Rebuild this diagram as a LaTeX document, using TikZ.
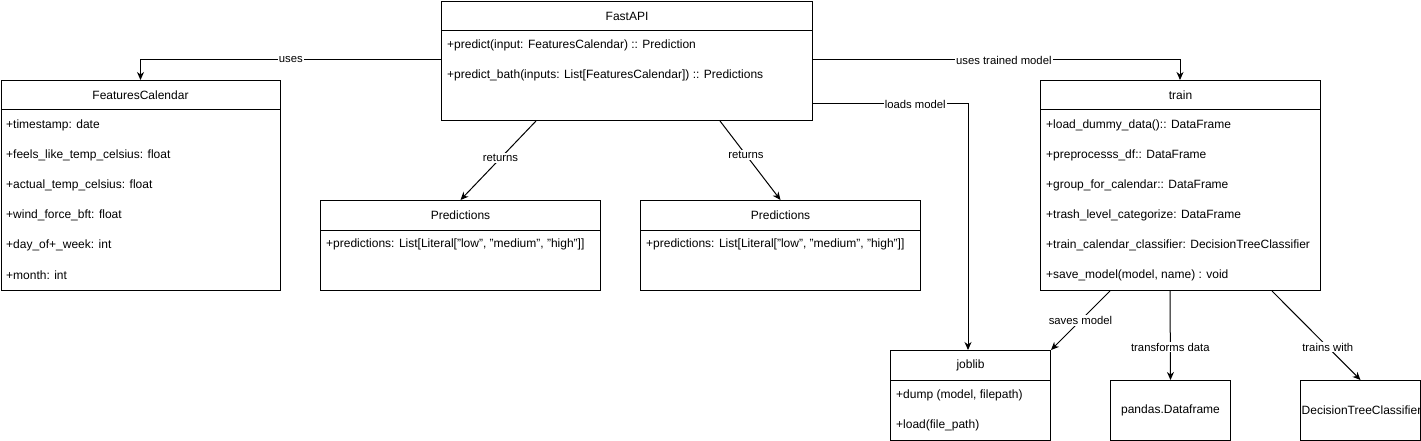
\documentclass[tikz,border=0pt]{standalone}
\usepackage{fontspec}
\setmainfont{Liberation Sans}
\usetikzlibrary{arrows.meta,calc}
\begin{document}
\begin{tikzpicture}[x=1pt,y=-1pt, font=\fontsize{12}{14}\selectfont,
 box/.style={draw, line width=1pt, anchor=north west, inner sep=0pt},
 hdr/.style={anchor=center, inner sep=0pt},
 row/.style={anchor=west, inner sep=0pt},
 divider/.style={line width=1pt},
 conn/.style={line width=1pt, -{Stealth[length=8pt,width=7pt,inset=2.5pt]}},
 lbl/.style={fill=white, inner sep=1pt, font=\fontsize{11.3}{13}\selectfont}]
\useasboundingbox (0,0) rectangle (1421,441);

% FastAPI
\node[box, minimum width=371pt, minimum height=119pt] (fast) at (441,1) {};
\node[hdr] (fastT) at ($(fast.north)+(0,15)$) {FastAPI};
\draw[divider] ($(fast.north west)+(0,30)$) -- ($(fast.north east)+(0,30)$);
\node[row] (fast1) at ($(fast.north west)+(6,44)$) {+predict(input: FeaturesCalendar) :: Prediction};
\node[row] (fast2) at ($(fast.north west)+(6,74)$) {+predict\_bath(inputs: List[FeaturesCalendar]) :: Predictions};

% FeaturesCalendar
\node[box, minimum width=279pt, minimum height=210pt] (feat) at (0.5,80) {};
\node[hdr] (featT) at ($(feat.north)+(0,15)$) {FeaturesCalendar};
\draw[divider] ($(feat.north west)+(0,30)$) -- ($(feat.north east)+(0,30)$);
\node[row] (feat1) at ($(feat.north west)+(5.5,45)$) {+timestamp: date};
\node[row] (feat2) at ($(feat.north west)+(5.5,75)$) {+feels\_like\_temp\_celsius: float};
\node[row] (feat3) at ($(feat.north west)+(5.5,105)$) {+actual\_temp\_celsius: float};
\node[row] (feat4) at ($(feat.north west)+(5.5,135)$) {+wind\_force\_bft: float};
\node[row] (feat5) at ($(feat.north west)+(5.5,165)$) {+day\_of+\_week: int};
\node[row] (feat6) at ($(feat.north west)+(5.5,195)$) {+month: int};

% Predictions 1
\node[box, minimum width=280pt, minimum height=90pt] (pred1) at (320,200) {};
\node[hdr] (pred1T) at ($(pred1.north)+(0,15)$) {Predictions};
\draw[divider] ($(pred1.north west)+(0,30)$) -- ($(pred1.north east)+(0,30)$);
\node[row] (pred1a) at ($(pred1.north west)+(6,44)$) {+predictions: List[Literal["low", "medium", "high"]]};

% Predictions 2
\node[box, minimum width=280pt, minimum height=90pt] (pred2) at (640,200) {};
\node[hdr] (pred2T) at ($(pred2.north)+(0,15)$) {Predictions};
\draw[divider] ($(pred2.north west)+(0,30)$) -- ($(pred2.north east)+(0,30)$);
\node[row] (pred2a) at ($(pred2.north west)+(6,44)$) {+predictions: List[Literal["low", "medium", "high"]]};

% train
\node[box, minimum width=280pt, minimum height=210pt] (train) at (1040,80) {};
\node[hdr] (trainT) at ($(train.north)+(0,15)$) {train};
\draw[divider] ($(train.north west)+(0,30)$) -- ($(train.north east)+(0,30)$);
\node[row] (train1) at ($(train.north west)+(6,45)$) {+load\_dummy\_data():: DataFrame};
\node[row] (train2) at ($(train.north west)+(6,75)$) {+preprocesss\_df:: DataFrame};
\node[row] (train3) at ($(train.north west)+(6,105)$) {+group\_for\_calendar:: DataFrame};
\node[row] (train4) at ($(train.north west)+(6,135)$) {+trash\_level\_categorize: DataFrame};
\node[row] (train5) at ($(train.north west)+(6,165)$) {+train\_calendar\_classifier: DecisionTreeClassifier};
\node[row] (train6) at ($(train.north west)+(6,195)$) {+save\_model(model, name) : void};

% joblib
\node[box, minimum width=160pt, minimum height=90pt] (joblib) at (890,350) {};
\node[hdr] (joblibT) at ($(joblib.north)+(0,15)$) {joblib};
\draw[divider] ($(joblib.north west)+(0,30)$) -- ($(joblib.north east)+(0,30)$);
\node[row] (joblib1) at ($(joblib.north west)+(6,45)$) {+dump (model, filepath)};
\node[row] (joblib2) at ($(joblib.north west)+(6,75)$) {+load(file\_path)};

% pandas
\node[box, minimum width=120pt, minimum height=60pt] (pandas) at (1110,380) {};
\node[hdr] (pandasT) at (pandas.center) {pandas.Dataframe};

% DecisionTreeClassifier
\node[box, minimum width=120pt, minimum height=60pt] (dtc) at (1300,380) {};
\node[hdr] (dtcT) at ($(dtc.center)+(1,0)$) {DecisionTreeClassifier};

% connectors
\draw[conn] ($(fast.north west)+(0,59)$) -| node[lbl, pos=0.25] {uses} (feat.north);
\draw[conn] ($(fast.north east)+(0,59)$) -| node[lbl, pos=0.26] {uses trained model} ($(train.north west)+(140,0)$);
\draw[conn] ($(fast.north east)+(0,103)$) -| node[lbl, pos=0.33] {loads model} ($(joblib.north west)+(78,0)$);
\draw[conn] ($(fast.south west)+(95,0)$) -- node[lbl, pos=0.47] {returns} (pred1.north);
\draw[conn] ($(fast.south west)+(279,0)$) -- node[lbl, pos=0.43] {returns} (pred2.north);
\draw[conn] ($(train.south west)+(70,0)$) -- node[lbl, pos=0.5] {saves model} (joblib.north east);
\draw[conn] ($(train.south west)+(130,0)$) -- node[lbl, pos=0.63] {transforms data} (pandas.north);
\draw[conn] ($(train.south west)+(232,0)$) -- node[lbl, pos=0.63] {trains with} (dtc.north);
\end{tikzpicture}
\end{document}
